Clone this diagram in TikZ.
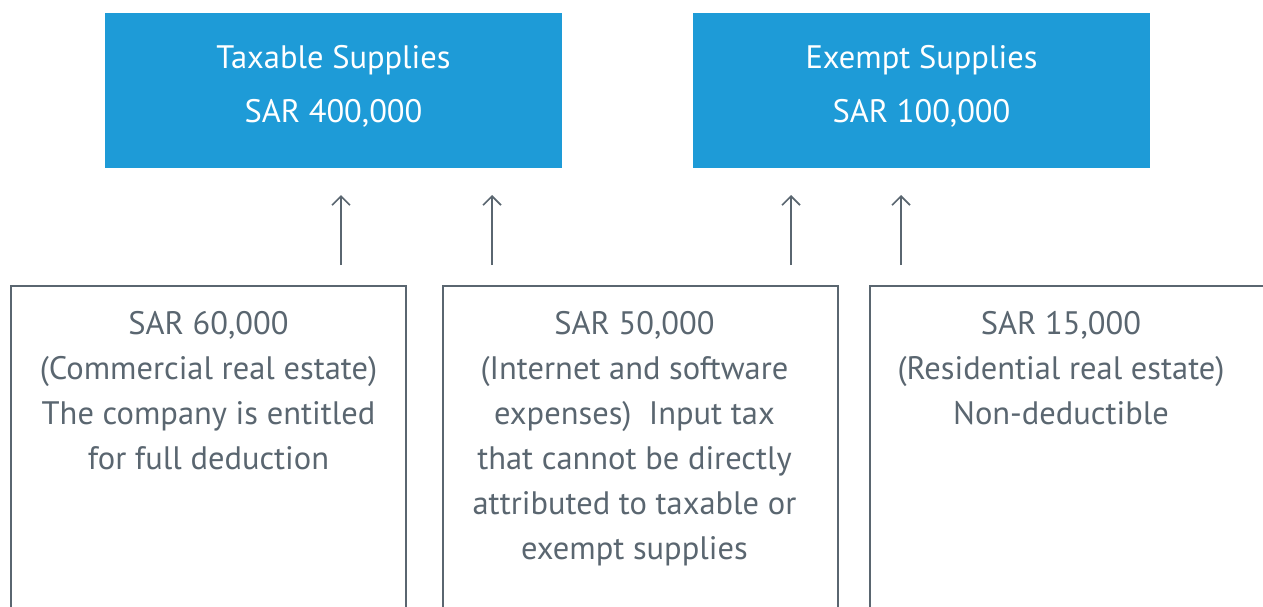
\documentclass[tikz,border=0pt]{standalone}
\usepackage{fontspec}
\setmainfont{PT Sans}
\usetikzlibrary{arrows.meta}
\definecolor{topblue}{HTML}{1E9BD7}
\definecolor{slate}{HTML}{5A6670}
\begin{document}
\begin{tikzpicture}[x=1pt,y=1pt,
  topbox/.style={fill=topblue, draw=none, minimum width=457pt, minimum height=155pt, anchor=north west, inner sep=0pt},
  toptext/.style={text=white, font=\fontsize{32.5}{54}\selectfont, align=center, anchor=north},
  bottext/.style={text=slate, font=\fontsize{32.5}{45}\selectfont, align=center, anchor=north},
  conn/.style={draw=slate, line width=1.6pt, -{Straight Barb[length=9pt,width=18pt,line width=1.6pt]}},
  frame/.style={draw=slate, line width=2pt}]
\useasboundingbox (0,0) rectangle (1263,-606);
\node[topbox] (tax) at (105,-13) {};
\node[topbox] (ex) at (693,-13) {};
\node[toptext] (taxt) at (333.5,-42) {Taxable Supplies\\SAR 400,000};
\node[toptext] (ext) at (921.5,-42) {Exempt Supplies\\SAR 100,000};
\begin{scope}
\clip (0,0) rectangle (1263,-606);
\draw[frame] (11,-620) -- (11,-286) -- (406,-286) -- (406,-620);
\draw[frame] (443,-620) -- (443,-286) -- (838,-286) -- (838,-620);
\draw[frame] (870,-620) -- (870,-286) -- (1275,-286) -- (1275,-620);
\end{scope}
\node[bottext] (a) at (208.5,-308) {SAR 60,000\\(Commercial real estate)\\The company is entitled\\for full deduction};
\node[bottext] (b) at (634.5,-308) {SAR 50,000\\(Internet and software\\expenses)\ \ Input tax\\that cannot be directly\\attributed to taxable or\\exempt supplies};
\node[bottext] (c) at (1061,-308) {SAR 15,000\\(Residential real estate)\\Non-deductible};
\coordinate (a1s) at (341,-265); \coordinate (a1e) at (341,-195);
\coordinate (a2s) at (492,-265); \coordinate (a2e) at (492,-195);
\coordinate (a3s) at (791,-265); \coordinate (a3e) at (791,-195);
\coordinate (a4s) at (901,-265); \coordinate (a4e) at (901,-195);
\draw[conn] (a1s) -- (a1e);
\draw[conn] (a2s) -- (a2e);
\draw[conn] (a3s) -- (a3e);
\draw[conn] (a4s) -- (a4e);
\end{tikzpicture}
\end{document}
